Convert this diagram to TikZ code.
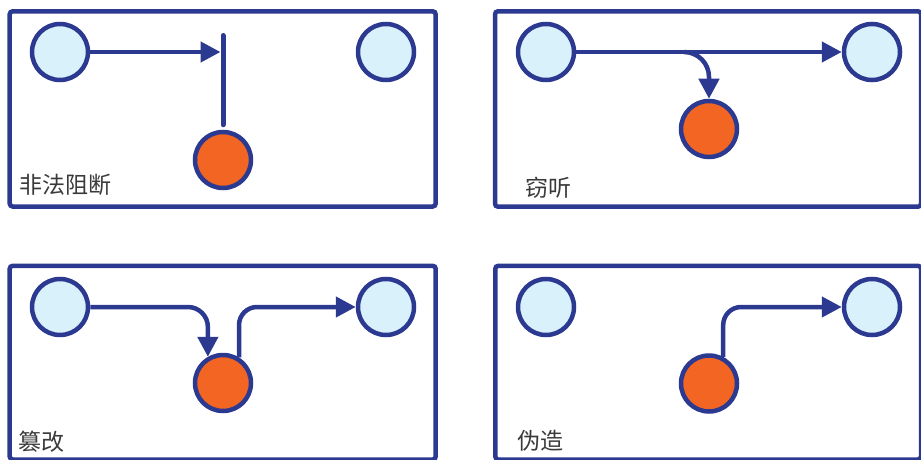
\documentclass[tikz,border=0pt]{standalone}
\usepackage{fontspec}
\newfontfamily\cjk{Noto Sans CJK SC}
\usetikzlibrary{arrows.meta}
\definecolor{dblue}{HTML}{2B3990}
\definecolor{lblue}{HTML}{D9F1FA}
\definecolor{oran}{HTML}{F26522}
\definecolor{txt}{HTML}{3A3A3A}
\begin{document}
\begin{tikzpicture}[x=1pt,y=-1pt,
  panel/.style={draw=dblue,line width=4.5pt,rounded corners=3pt},
  host/.style={circle,draw=dblue,fill=lblue,line width=4.5pt,minimum size=56pt,inner sep=0pt},
  attacker/.style={circle,draw=dblue,fill=oran,line width=4.5pt,minimum size=56pt,inner sep=0pt},
  arr/.style={draw=dblue,line width=4.5pt,-{Triangle[length=20pt,width=20pt]}},
  blockline/.style={draw=dblue,line width=5pt,line cap=round},
  lbl/.style={anchor=west,inner sep=0pt,text=txt,font=\cjk\fontsize{23pt}{23pt}\selectfont}]
\useasboundingbox (0,0) rectangle (921,460);
\clip (0,0) rectangle (921,460);
% panels
\draw[panel] (9.7,11.3) rectangle (435.7,206.5);
\draw[panel] (495,11.3) rectangle (921,206.7);
\draw[panel] (9.7,265.8) rectangle (435.7,459.5);
\draw[panel] (495.3,265.8) rectangle (921,459.5);
% panel 1: interruption
\node[host] (l1) at (60,52) {};
\node[host] (r1) at (386,52) {};
\node[attacker] (o1) at (223,160) {};
\coordinate (bt1) at (223,35.5);
\draw[arr,shorten >=2.5pt] (l1) -- (l1 -| bt1);
\draw[blockline,shorten >=5pt] (bt1) -- (o1.north);
\node[lbl] (t1) at (19,185) {非法阻断};
% panel 2: interception
\node[host] (l2) at (546,52) {};
\node[host] (r2) at (872,52) {};
\node[attacker] (o2) at (709,129) {};
\coordinate (b2) at (684,52);
\draw[arr] (l2) -- (r2);
\draw[arr,rounded corners=25pt] (b2) -| (o2.north);
\node[lbl] (t2) at (525,188) {窃听};
% panel 3: modification
\node[host] (l3) at (60,307) {};
\node[host] (r3) at (386,307) {};
\node[attacker] (o3) at (223,383) {};
\draw[arr,rounded corners=20pt] (l3) -| (o3.120);
\draw[arr,rounded corners=18pt] (o3.58) |- (r3);
\node[lbl] (t3) at (18,442) {篡改};
% panel 4: fabrication
\node[host] (l4) at (546,307) {};
\node[host] (r4) at (872,307) {};
\node[attacker] (o4) at (709,383.5) {};
\draw[arr,rounded corners=18pt] (o4.62) |- (r4);
\node[lbl] (t4) at (517,441) {伪造};
\end{tikzpicture}
\end{document}
